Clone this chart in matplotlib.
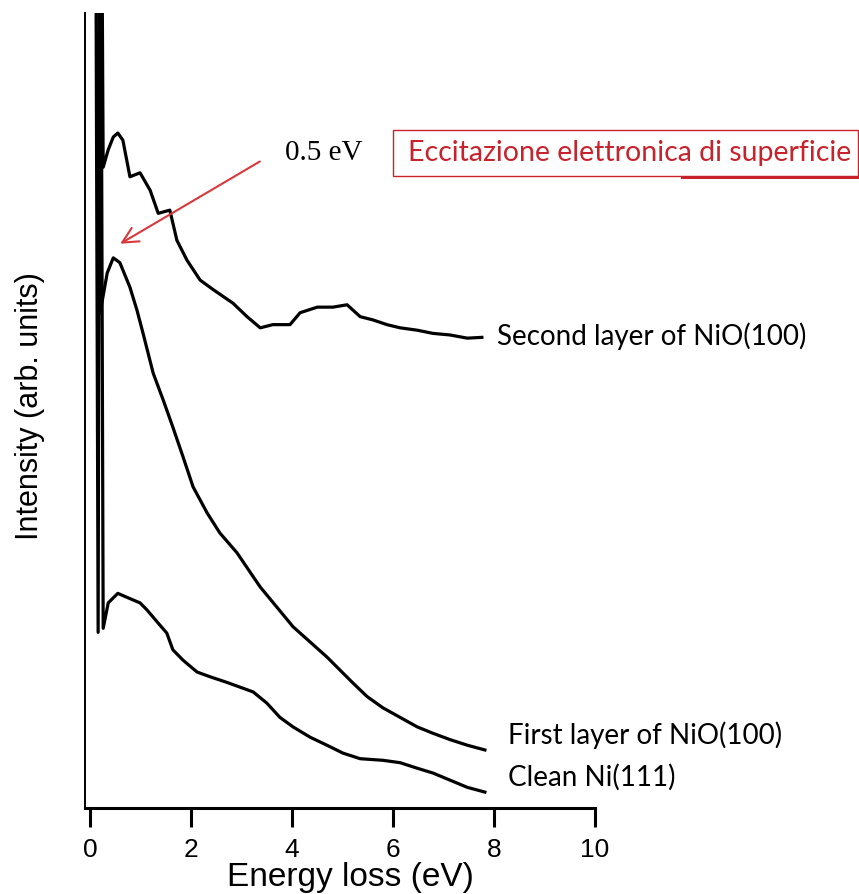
import matplotlib.pyplot as plt
from matplotlib.patches import Rectangle
from matplotlib.lines import Line2D

# Energy loss (eV) and intensity (arb. units)
second_E = [0.21, 0.26, 0.36, 0.46, 0.55, 0.65, 0.79, 0.99, 1.19, 1.35, 1.58, 1.72,
            1.92, 2.18, 2.44, 2.83, 3.11, 3.37, 3.62, 3.96, 4.16, 4.50, 4.81, 5.09,
            5.35, 5.60, 5.88, 6.14, 6.48, 6.79, 7.13, 7.47, 7.76]
second_I = [140, 80.6, 82.8, 84.4, 84.9, 84.0, 79.4, 79.9, 77.7, 74.8, 75.2, 71.4,
            68.9, 66.4, 65.2, 63.5, 61.8, 60.4, 60.8, 60.8, 62.3, 63.0, 63.0, 63.3,
            61.8, 61.4, 60.8, 60.4, 60.1, 59.7, 59.5, 59.1, 59.2]

first_E = [0.15, 0.20, 0.34, 0.46, 0.59, 0.79, 0.93, 1.05, 1.25, 1.45, 1.64, 1.84,
           2.04, 2.32, 2.57, 2.91, 3.23, 3.37, 4.02, 4.69, 5.21, 5.49, 5.80, 6.14,
           6.48, 6.79, 7.13, 7.47, 7.82]
first_I = [140, 62.3, 67.3, 69.2, 68.6, 65.5, 62.6, 59.7, 54.7, 51.3, 47.9, 44.2,
           40.4, 37.1, 34.6, 32.1, 29.1, 27.8, 22.8, 19.0, 15.7, 14.0, 12.6, 11.4,
           10.2, 9.4, 8.6, 7.9, 7.3]

clean_E = [0.10, 0.16, 0.20, 0.26, 0.36, 0.55, 0.73, 0.99, 1.13, 1.33, 1.52, 1.64,
           1.84, 2.12, 2.38, 2.71, 2.97, 3.23, 3.50, 3.76, 4.02, 4.36, 4.69, 5.01,
           5.35, 5.80, 6.14, 6.48, 6.79, 7.13, 7.47, 7.82]
clean_I = [140, 22.1, 140, 22.6, 25.8, 27.0, 26.5, 25.8, 24.9, 23.4, 22.0, 19.9,
           18.6, 17.1, 16.5, 15.8, 15.2, 14.6, 13.2, 11.4, 10.2, 8.9, 7.9, 6.9,
           6.2, 6.0, 5.7, 5.0, 4.4, 3.5, 2.6, 2.0]

curve_labels = ["Second layer of NiO(100)", "First layer of NiO(100)", "Clean Ni(111)"]
xticks = [0, 2, 4, 6, 8, 10]

W, H = 859, 894
fig = plt.figure(figsize=(W / 100, H / 100), dpi=100)
ax = fig.add_axes([85 / W, 1 - 808 / H, 510 / W, 795 / H])

for E, I in [(second_E, second_I), (first_E, first_I), (clean_E, clean_I)]:
    ax.plot(E, I, color='black', lw=2.3, solid_joinstyle='round')

ax.set_xlim(-0.1, 10)
ax.set_ylim(0, 100)
ax.spines['top'].set_visible(False)
ax.spines['right'].set_visible(False)
ax.spines['left'].set_linewidth(1.4)
ax.spines['bottom'].set_linewidth(2.2)
ax.set_yticks([])
ax.set_xticks(xticks)
ax.set_xticklabels([str(t) for t in xticks])
ax.tick_params(axis='x', direction='out', length=13.5, width=2.2, pad=8,
               labelsize=19)
for lab in ax.get_xticklabels():
    lab.set_family('Liberation Sans')

fig.text(350 / W, 1 - 886 / H, "Energy loss (eV)", family='Liberation Sans',
         fontsize=24, ha='center', va='baseline')
fig.text(30 / W, 1 - 406 / H, "Intensity (arb. units)", family='Liberation Sans',
         fontsize=22, rotation=90, ha='center', va='center')

# curve labels
label_pos = [(497, 336), (508, 735), (508, 777)]
for txt, (px, py) in zip(curve_labels, label_pos):
    fig.text(px / W, 1 - py / H, txt, family='Lato', fontsize=20,
             ha='left', va='center')

# annotation
red = '#c8232c'
ax.annotate('', xy=(0.55, 70.8), xytext=(3.41, 81.5),
            arrowprops=dict(arrowstyle='->', color='#d8383c', lw=1.5,
                            mutation_scale=28))
fig.text(285 / W, 1 - 153 / H, "0.5 eV", family='Liberation Serif',
         fontsize=21, ha='left', va='center')

fig.patches.append(Rectangle((393 / W, 1 - 176 / H), (858 - 393) / W, 46 / H,
                             transform=fig.transFigure, fill=False,
                             edgecolor=red, lw=1.0))
fig.lines.append(Line2D([682 / W, 859 / W], [1 - 177 / H, 1 - 177 / H],
                        transform=fig.transFigure, color=red, lw=2.2))
fig.text(408 / W, 1 - 153 / H, "Eccitazione elettronica di superficie",
         family='Lato', fontsize=20.5, color=red, ha='left', va='center')

fig.savefig('out.png', dpi=100)
